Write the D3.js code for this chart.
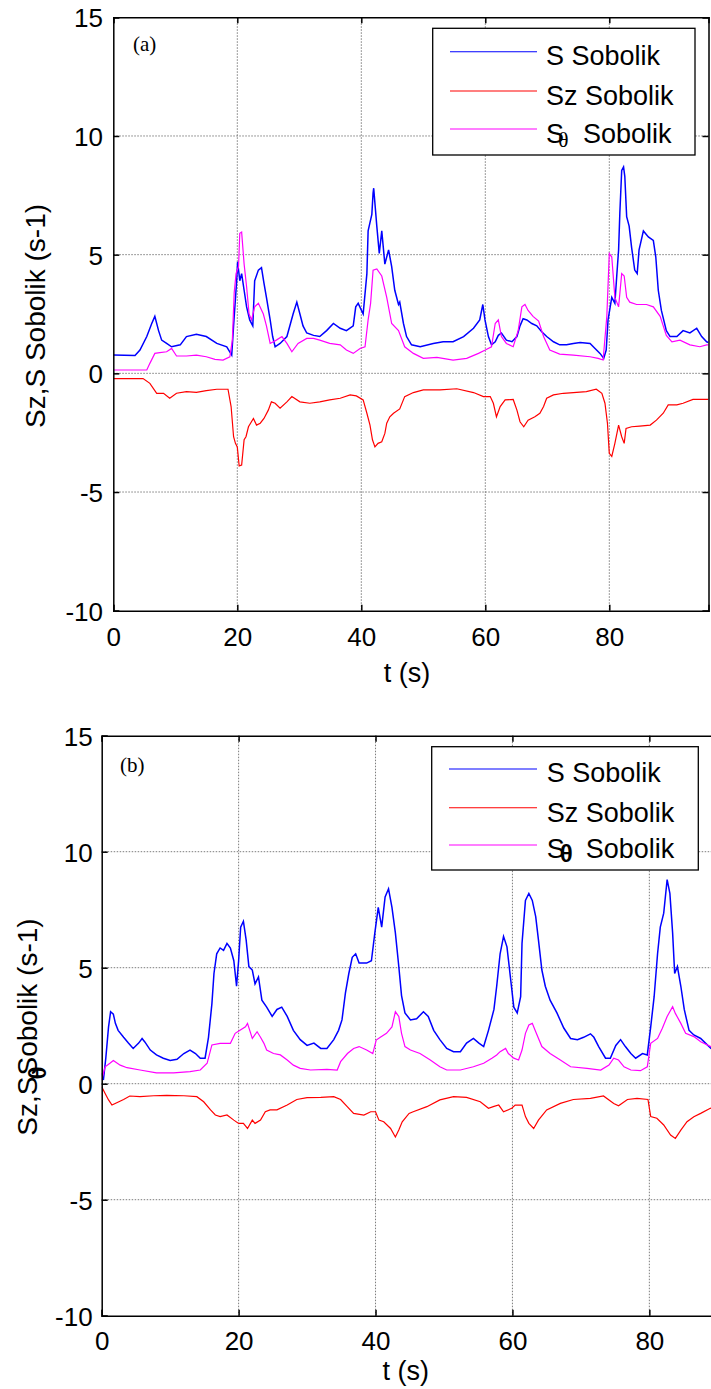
<!DOCTYPE html>
<html><head><meta charset="utf-8">
<script src="https://cdn.jsdelivr.net/npm/d3@7"></script>
<style>
html,body{margin:0;padding:0;background:#fff;}
svg{display:block;font-family:"Liberation Sans",Arial,sans-serif;}
</style></head>
<body>
<svg id="chart" width="711" height="1389"></svg>
<script>
// ---------------- DATA ----------------
const xTicks = [0, 20, 40, 60, 80];
const yTicks = [-10, -5, 0, 5, 10, 15];
const seriesNames = ["S Sobolik", "Sz Sobolik", "S\u03b8 Sobolik"];
const seriesColors = ["#0000ff", "#ff0000", "#ff00ff"];

// panel (a) : [t, value]
const aS = [[0,0.77],[3.5,0.75],[4.3,0.98],[5.4,1.55],[6.2,2.1],[6.7,2.4],[7.3,1.8],[7.8,1.4],[8.6,1.26],[9.4,1.12],[10.8,1.2],[11.8,1.55],[13.4,1.65],[15,1.55],[16.7,1.26],[18.3,1.12],[19.1,0.77],[19.4,2.0],[19.9,3.9],[20.05,4.7],[20.4,3.9],[20.7,4.2],[21.1,3.5],[21.5,2.8],[22,2.25],[22.5,2.0],[22.8,3.9],[23.4,4.35],[23.9,4.45],[24.3,3.8],[24.7,3.2],[25.3,2.25],[25.7,1.55],[26.1,1.12],[26.9,1.26],[28,1.55],[29,2.5],[29.6,3.0],[30.1,2.5],[30.6,2.0],[31.2,1.7],[32.3,1.6],[33.3,1.55],[34.4,1.8],[35.5,2.1],[36.6,1.9],[37.6,1.8],[38.7,2.0],[39.1,2.8],[39.5,2.95],[40.3,2.5],[40.9,4.2],[41.1,6.0],[41.7,6.7],[41.9,7.6],[42.0,7.8],[42.5,6.2],[42.9,5.05],[43.3,6.0],[43.8,4.6],[44.4,5.2],[44.9,4.5],[45.4,3.5],[46,2.9],[46.2,3.0],[46.8,2.1],[47.3,1.55],[48.1,1.2],[49.5,1.12],[51.6,1.26],[53.2,1.33],[54.8,1.33],[56.5,1.55],[58.1,1.9],[59.1,2.25],[59.6,2.9],[59.95,2.25],[60.5,1.55],[61,1.2],[61.6,1.33],[62.1,1.6],[62.6,1.7],[63.4,1.4],[64.3,1.33],[65.1,1.55],[65.6,2.0],[66.1,2.3],[66.7,2.25],[67.5,2.1],[68.3,2.0],[69.1,1.75],[69.9,1.55],[71,1.33],[72,1.2],[73.1,1.2],[74.2,1.26],[75.3,1.3],[76.9,1.26],[77.7,1.05],[78.5,0.84],[79.1,0.63],[79.5,0.98],[79.8,2.25],[80.4,3.2],[80.9,2.95],[81.2,4.1],[81.5,5.2],[81.7,6.75],[82,8.55],[82.3,8.7],[82.5,8.3],[82.8,6.6],[83.2,6.2],[83.6,5.3],[84.1,4.35],[84.5,4.2],[84.8,5.2],[85.5,6.0],[86.3,5.75],[87.1,5.6],[87.5,4.9],[87.9,3.5],[88.4,2.65],[89.2,1.8],[89.8,1.55],[90.9,1.55],[91.9,1.8],[93,1.7],[94.1,1.9],[94.9,1.55],[95.7,1.33],[96,1.3]];
const aSz = [[0,-0.22],[4.8,-0.22],[5.9,-0.42],[7,-0.84],[8.1,-0.84],[9.1,-1.05],[10.2,-0.84],[11.8,-0.77],[13.4,-0.8],[15,-0.73],[16.7,-0.67],[18.5,-0.67],[19,-1.4],[19.4,-2.67],[19.7,-2.95],[20,-3.1],[20.3,-3.9],[20.7,-3.86],[21.1,-2.8],[21.4,-2.67],[21.8,-2.25],[22.6,-1.9],[23.1,-2.18],[23.7,-2.1],[24.3,-1.9],[25,-1.55],[25.5,-1.2],[26.1,-1.26],[26.9,-1.47],[28,-1.2],[28.8,-0.98],[30.1,-1.2],[31.7,-1.26],[33.3,-1.2],[34.9,-1.12],[36.6,-1.05],[38.2,-0.91],[39.2,-0.95],[40.3,-1.12],[40.9,-1.68],[41.4,-2.18],[41.8,-2.8],[42.2,-3.1],[42.7,-2.95],[43.3,-2.88],[43.8,-2.53],[44.1,-2.1],[44.6,-1.83],[45.2,-1.68],[46.2,-1.5],[47,-0.98],[48.4,-0.81],[50,-0.7],[52.7,-0.7],[55.4,-0.65],[58.1,-0.81],[59.7,-0.98],[60.8,-0.98],[61.3,-1.26],[61.8,-1.83],[62.4,-1.4],[63.2,-1.12],[64.5,-1.1],[65.1,-1.55],[65.6,-2.04],[66.2,-2.25],[66.9,-1.97],[68,-1.83],[68.8,-1.68],[69.4,-1.4],[69.9,-1.05],[71,-0.91],[72.6,-0.84],[74.2,-0.81],[76.3,-0.77],[77.9,-0.67],[78.8,-0.84],[79.3,-1.26],[79.7,-2.1],[80,-3.37],[80.4,-3.5],[80.9,-2.95],[81.5,-2.18],[82,-2.67],[82.4,-2.95],[82.7,-2.32],[83.6,-2.25],[84.9,-2.22],[86.6,-2.18],[87.6,-1.97],[88.7,-1.68],[89.5,-1.33],[90.9,-1.33],[91.9,-1.26],[93.5,-1.1],[96,-1.1]];
const aSth = [[0,0.14],[5.4,0.14],[5.9,0.42],[6.7,0.84],[7.5,0.87],[8.6,0.91],[9.4,1.05],[10.2,0.73],[11.8,0.73],[13.4,0.77],[15,0.7],[16.4,0.59],[17.7,0.56],[18.8,0.7],[19.2,1.4],[19.5,3.4],[19.8,4.2],[20.2,4.5],[20.4,5.9],[20.7,5.95],[21.1,4.6],[21.5,3.65],[21.9,2.5],[22.3,2.25],[22.8,2.8],[23.4,2.95],[24.2,2.5],[24.7,2.0],[25.3,1.26],[26.3,1.4],[27.2,1.55],[28,1.26],[28.8,0.91],[29.8,1.26],[31.2,1.47],[32.3,1.47],[33.3,1.4],[34.9,1.26],[36.6,1.2],[37.6,0.98],[38.7,0.84],[39.8,1.05],[40.6,1.12],[41.1,2.25],[41.5,2.95],[41.9,4.35],[42.5,4.4],[43.3,4.1],[44.1,3.2],[44.9,2.1],[46,1.8],[47,1.12],[48.4,0.84],[50,0.63],[52.2,0.67],[54.8,0.56],[57,0.63],[58.9,0.84],[60,0.98],[61,1.12],[61.6,2.1],[62.1,2.25],[62.6,1.55],[63.4,1.26],[64.5,1.12],[65.3,1.8],[65.9,2.8],[66.4,2.9],[66.9,2.65],[67.7,2.4],[68.6,2.2],[69.4,1.55],[70.4,0.98],[72,0.81],[74.2,0.77],[76.9,0.7],[78.2,0.63],[79,0.56],[79.6,2.4],[80,5.05],[80.4,4.9],[80.9,3.2],[81.5,2.8],[82,4.2],[82.4,4.1],[82.8,3.2],[83.3,3.0],[84.4,2.9],[86,2.9],[87.1,2.8],[88.2,2.4],[89.2,1.6],[90.1,1.33],[91.4,1.4],[93,1.2],[94.6,1.12],[95.7,1.2],[96,1.2]];

// panel (b) : [t, value]
const bS = [[0,0.45],[0.25,0.16],[0.6,1.1],[1,2.45],[1.3,3.1],[1.7,3.0],[2,2.6],[2.4,2.3],[3.2,2.0],[3.9,1.75],[4.6,1.52],[5.4,1.75],[5.9,1.95],[6.3,1.8],[7.1,1.45],[8,1.24],[9,1.1],[10,1.0],[11,1.05],[12,1.3],[12.9,1.45],[13.7,1.3],[14.4,1.1],[15.1,1.1],[15.6,2.0],[16.1,3.45],[16.4,4.75],[16.8,5.6],[17.3,5.85],[17.8,5.75],[18.3,6.05],[18.8,5.85],[19.3,5.3],[19.7,4.2],[20,5.3],[20.3,6.75],[20.7,7.0],[21.1,6.2],[21.5,5.05],[22,4.9],[22.4,4.3],[22.9,4.6],[23.4,3.6],[24.1,3.3],[24.9,2.9],[25.6,3.2],[26.3,3.3],[27.1,2.9],[28,2.3],[29,1.9],[30,1.65],[31,1.75],[32,1.52],[32.9,1.52],[33.9,1.9],[34.6,2.3],[35.1,2.75],[35.6,3.9],[36.1,4.75],[36.6,5.45],[37.1,5.6],[37.6,5.2],[38.7,5.2],[39.4,5.3],[39.9,6.5],[40.4,7.6],[40.9,6.75],[41.4,8.05],[41.9,8.4],[42.4,7.6],[42.9,6.5],[43.4,5.05],[43.8,3.8],[44.3,3.05],[45.1,2.75],[46,2.8],[47,3.1],[47.7,2.9],[48.5,2.3],[49.4,1.9],[50.4,1.52],[51.4,1.38],[52.4,1.38],[53.3,1.75],[54.3,1.95],[55.1,1.75],[55.8,1.6],[56.5,2.3],[57.3,3.2],[57.7,4.2],[58.2,5.6],[58.7,6.35],[59.2,5.9],[59.7,4.6],[60.2,3.3],[60.7,3.05],[61.2,3.75],[61.4,6.05],[61.9,7.9],[62.4,8.2],[62.9,7.9],[63.4,7.2],[63.8,6.2],[64.3,4.9],[64.8,4.2],[65.5,3.6],[66.5,3.05],[67.5,2.4],[68.5,1.95],[69.5,1.9],[70.4,2.0],[71.4,2.15],[71.9,2.0],[72.6,1.6],[73.6,1.1],[74.3,1.1],[75.1,1.65],[75.8,1.9],[76.5,1.6],[77.3,1.3],[78,1.1],[79,1.3],[79.7,1.24],[80.2,2.45],[80.7,3.75],[81.2,5.6],[81.6,6.75],[82.1,7.35],[82.6,8.8],[83,8.2],[83.4,6.5],[83.7,4.75],[84.1,5.05],[84.6,4.2],[85.1,3.2],[85.8,2.3],[86.5,2.1],[87.5,1.95],[88.2,1.75],[89,1.52],[90,1.4]];
const bSz = [[0,-0.13],[0.5,-0.42],[1,-0.7],[1.5,-0.92],[2.2,-0.82],[3.2,-0.68],[4.1,-0.53],[5.6,-0.56],[7.6,-0.52],[9.5,-0.5],[12,-0.52],[13.9,-0.56],[14.9,-0.78],[15.9,-1.13],[16.6,-1.35],[17.3,-1.42],[18.3,-1.35],[19.3,-1.57],[20,-1.71],[20.7,-1.71],[21.3,-1.93],[22,-1.57],[22.4,-1.71],[23.2,-1.57],[23.9,-1.21],[24.6,-1.13],[25.6,-1.13],[27.1,-0.92],[28.5,-0.68],[30,-0.6],[32,-0.59],[33.9,-0.56],[34.9,-0.68],[35.9,-1.0],[36.8,-1.28],[38.3,-1.35],[39.3,-1.21],[40,-1.21],[40.5,-1.57],[41.2,-1.64],[42.2,-1.93],[42.9,-2.3],[43.4,-2.0],[43.9,-1.64],[44.9,-1.28],[45.5,-1.21],[47.5,-0.99],[49.4,-0.7],[51.4,-0.56],[53.3,-0.59],[55.3,-0.78],[56.5,-1.06],[57.2,-0.99],[58,-0.92],[58.7,-1.21],[59.9,-1.06],[60.4,-0.92],[61.4,-0.92],[61.9,-1.42],[62.4,-1.71],[63.1,-1.93],[63.8,-1.57],[65,-1.13],[67,-0.85],[68.9,-0.68],[71.4,-0.63],[73.3,-0.53],[74.8,-0.85],[75.5,-0.95],[76.8,-0.68],[78.2,-0.63],[79.8,-0.68],[80.2,-1.42],[81.1,-1.49],[82.1,-1.78],[83.1,-2.21],[83.8,-2.36],[84.6,-2.0],[85.5,-1.64],[86.5,-1.42],[87.5,-1.28],[88.9,-1.06],[90,-1.0]];
const bSth = [[0,0.16],[0.5,0.73],[1.2,0.88],[1.7,1.0],[2.7,0.8],[3.7,0.69],[5.6,0.59],[8,0.47],[10.5,0.47],[12.9,0.52],[14.4,0.59],[15.4,0.88],[16.1,1.67],[17.3,1.74],[18.8,1.74],[19.5,2.17],[20.2,2.3],[21,2.45],[21.3,2.6],[22,1.95],[22.7,2.24],[23.2,2.0],[23.7,1.74],[24.1,1.45],[25.1,1.3],[26.1,1.24],[27.1,1.02],[28,0.8],[29,0.66],[30.5,0.59],[32.9,0.62],[34.4,0.59],[34.9,0.95],[35.9,1.3],[36.8,1.52],[37.6,1.6],[38.7,1.45],[39.6,1.3],[40.1,1.88],[40.7,2.0],[41.6,2.17],[42.4,2.45],[42.9,3.1],[43.4,2.9],[43.8,2.17],[44.3,1.6],[45.1,1.45],[46.5,1.3],[48,1.02],[49.4,0.73],[50.4,0.59],[52.4,0.59],[54.3,0.73],[55.8,0.88],[57,1.1],[57.7,1.24],[58.2,1.38],[59,1.52],[59.4,1.3],[60.2,1.1],[60.9,1.02],[61.4,1.45],[61.9,2.17],[62.4,2.53],[62.9,2.6],[63.4,2.24],[64.3,1.6],[65.5,1.3],[67,1.02],[68.5,0.73],[70.9,0.66],[72.9,0.59],[74.1,0.8],[74.8,1.1],[75.5,1.02],[76.3,0.73],[77.3,0.59],[78.7,0.56],[79.7,0.73],[80.2,1.74],[81.2,1.95],[81.9,2.39],[82.6,2.9],[83.4,3.32],[83.8,3.03],[84.6,2.6],[85.3,2.17],[86.5,2.03],[87.5,1.81],[89,1.6],[90,1.5]];

// ---------------- DRAW ----------------
const svg = d3.select("#chart");
const SANS = "Liberation Sans, Arial, sans-serif";
const SERIF = "Liberation Serif, Times New Roman, serif";

function drawPanel(cfg){
  const g = svg.append("g");
  const x = d3.scaleLinear().domain(cfg.xDomain).range([cfg.left, cfg.right]);
  const y = d3.scaleLinear().domain([-10, 15]).range([cfg.bottom, cfg.top]);
  const clipId = "clip" + cfg.id;
  svg.append("defs").append("clipPath").attr("id", clipId)
    .append("rect").attr("x", cfg.left).attr("y", cfg.top)
    .attr("width", cfg.right - cfg.left).attr("height", cfg.bottom - cfg.top);

  // grid
  const grid = g.append("g").attr("stroke", "#5a5a5a").attr("stroke-width", 0.8)
    .attr("stroke-dasharray", "1.5,1.5").attr("fill", "none");
  xTicks.filter(t => t > cfg.xDomain[0]).forEach(t => {
    grid.append("line").attr("x1", x(t)).attr("x2", x(t)).attr("y1", cfg.top).attr("y2", cfg.bottom);
  });
  yTicks.filter(v => v > -10 && v < 15).forEach(v => {
    grid.append("line").attr("x1", cfg.left).attr("x2", cfg.right).attr("y1", y(v)).attr("y2", y(v));
  });

  // series
  const line = d3.line().x(d => x(d[0])).y(d => y(d[1]));
  const lines = g.append("g").attr("clip-path", `url(#${clipId})`);
  cfg.series.forEach((s, i) => {
    lines.append("path").datum(s).attr("d", line).attr("fill", "none")
      .attr("stroke", seriesColors[i]).attr("stroke-width", i === 0 ? 1.5 : 1.2)
      .attr("stroke-linejoin", "miter");
  });

  // axes using d3 axis generators (inward ticks)
  const tl = 6;
  const fmt = d => String(d);
  const axB = g.append("g").attr("transform", `translate(0,${cfg.bottom})`)
    .call(d3.axisBottom(x).tickValues(xTicks).tickSize(-tl).tickFormat(fmt));
  const axT = g.append("g").attr("transform", `translate(0,${cfg.top})`)
    .call(d3.axisTop(x).tickValues(xTicks).tickSize(-tl).tickFormat(""));
  const axL = g.append("g").attr("transform", `translate(${cfg.left},0)`)
    .call(d3.axisLeft(y).tickValues(yTicks).tickSize(-tl).tickFormat(fmt));
  const axR = g.append("g").attr("transform", `translate(${cfg.right},0)`)
    .call(d3.axisRight(y).tickValues(yTicks).tickSize(-tl).tickFormat(""));
  [axB, axT, axL, axR].forEach(a => {
    a.attr("font-family", SANS).attr("font-size", 26);
    a.select(".domain").attr("stroke", "#000").attr("stroke-width", 1.5);
    a.selectAll(".tick line").attr("stroke", "#000").attr("stroke-width", 1.5);
  });
  axB.selectAll(".tick text").attr("dy", null).attr("y", cfg.xTickBase - cfg.bottom).attr("fill", "#000");
  axL.selectAll(".tick text").attr("dy", "0.36em").attr("x", cfg.yTickRight - cfg.left).attr("fill", "#000");

  // x label
  g.append("text").attr("x", (cfg.left + cfg.right) / 2 - 4).attr("y", cfg.xLabelBase)
    .attr("text-anchor", "middle").attr("font-size", 27).attr("font-family", SANS).text("t (s)");

  // y label
  const yl = g.append("text").attr("transform", `translate(${cfg.yLabelX},${cfg.yLabelY}) rotate(-90)`)
    .attr("text-anchor", "middle").attr("font-size", 28).attr("font-family", SANS);
  cfg.yLabel(yl);

  // panel tag
  g.append("text").attr("x", cfg.tagX).attr("y", cfg.tagY)
    .attr("font-family", SERIF).attr("font-size", 21).text(cfg.tag);

  // legend
  const L = cfg.legend;
  g.append("rect").attr("x", L.x0).attr("y", L.y0).attr("width", L.x1 - L.x0).attr("height", L.y1 - L.y0)
    .attr("fill", "#fff").attr("stroke", "#000").attr("stroke-width", 1.3);
  seriesNames.forEach((name, i) => {
    const ly = L.lineY[i];
    g.append("line").attr("x1", L.lx0).attr("x2", L.lx1).attr("y1", ly).attr("y2", ly)
      .attr("stroke", seriesColors[i]).attr("stroke-width", 1.1);
    const tb = L.textBase[i];
    if (i < 2) {
      g.append("text").attr("x", L.tx).attr("y", tb).attr("font-size", 27).attr("font-family", SANS).text(name);
    } else {
      const t = g.append("text").attr("x", L.tx).attr("y", tb).attr("font-size", 27).attr("font-family", SANS);
      t.append("tspan").text("S");
      t.append("tspan").attr("x", L.tx + L.thDx).attr("dy", L.thDy)
        .attr("font-size", L.thSize).attr("font-family", L.thFont).attr("font-weight", L.thWeight).text("\u03b8");
      t.append("tspan").attr("x", L.tx + L.restDx).attr("dy", -L.thDy).text("Sobolik");
    }
  });
}

drawPanel({
  id: "a", xDomain: [0, 96], left: 113.3, right: 708.5, top: 17.3, bottom: 610.7,
  xTickBase: 646, yTickRight: 103, xLabelBase: 682,
  yLabelX: 45, yLabelY: 316,
  yLabel: t => t.text("Sz,S Sobolik (s-1)"),
  tag: "(a)", tagX: 133, tagY: 51,
  series: [aS, aSz, aSth],
  legend: { x0: 432.7, x1: 695, y0: 28.3, y1: 155, lx0: 450, lx1: 537, lineY: [51.7, 91, 129],
    tx: 546, textBase: [64.5, 104.5, 143], thDx: 12, thDy: 4, thSize: 22,
    thFont: SERIF, thWeight: "normal", restDx: 37 }
});

drawPanel({
  id: "b", xDomain: [0, 90], left: 101.7, right: 717.8, top: 735.7, bottom: 1315.7,
  xTickBase: 1350, yTickRight: 92.7, xLabelBase: 1380,
  yLabelX: 37, yLabelY: 1027,
  yLabel: t => {
    t.append("tspan").text("Sz,S");
    t.append("tspan").attr("font-size", 24).attr("font-weight", "bold").attr("dy", 9).attr("dx", -3).text("\u03b8");
    t.append("tspan").attr("dy", -9).attr("dx", -9).text("Sobolik (s-1)");
  },
  tag: "(b)", tagX: 120, tagY: 772,
  series: [bS, bSz, bSth],
  legend: { x0: 431.7, x1: 698.3, y0: 746.7, y1: 870, lx0: 449, lx1: 537, lineY: [769, 807.7, 845],
    tx: 546.7, textBase: [782, 821.5, 858], thDx: 13, thDy: 4, thSize: 24,
    thFont: SANS, thWeight: "bold", restDx: 39 }
});
</script>
</body></html>
